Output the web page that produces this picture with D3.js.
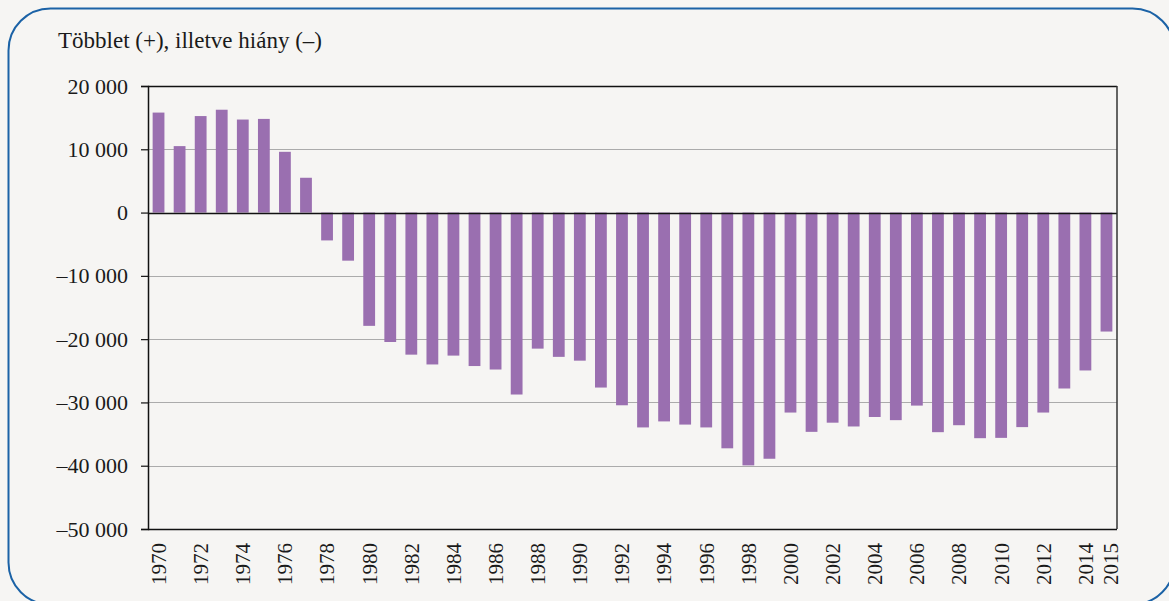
<!DOCTYPE html>
<html>
<head>
<meta charset="utf-8">
<script src="https://cdn.jsdelivr.net/npm/d3@7"></script>
<style>
  html, body { margin: 0; padding: 0; background: #f6f5f3; }
  svg { display: block; }
  text { font-family: "Liberation Serif", "Times New Roman", serif; fill: #1a1a1a; }
</style>
</head>
<body>
<div id="chart"></div>
<script>
// adatok
var years = d3.range(1970, 2016);
var values = [
    15800, 10500, 15250, 16250, 14700, 14800, 9600, 5500,
    -4400, -7600, -17900, -20450, -22450, -24000, -22600, -24250,
    -24800, -28750, -21500, -22800, -23400, -27650, -30450, -33950,
    -33000, -33500, -33950, -37250, -39950, -38900, -31600, -34650,
    -33200, -33800, -32300, -32800, -30500, -34700, -33600, -35650,
    -35600, -33900, -31600, -27800, -24950, -18800
];
var yTicks = [20000, 10000, 0, -10000, -20000, -30000, -40000, -50000];
var xLabels = [1970, 1972, 1974, 1976, 1978, 1980, 1982, 1984, 1986, 1988, 1990, 1992,
    1994, 1996, 1998, 2000, 2002, 2004, 2006, 2008, 2010, 2012, 2014, 2015];
var title = "Többlet (+), illetve hiány (–)";

var W = 1169, H = 601;
var margin = { top: 86, right: 52, bottom: 72, left: 148 };
var width = W - margin.left - margin.right;
var height = H - margin.top - margin.bottom;

var svg = d3.select("#chart").append("svg")
    .attr("width", W)
    .attr("height", H);

// keret
svg.append("rect")
    .attr("x", 8.5).attr("y", 8.5)
    .attr("width", 1166).attr("height", 596)
    .attr("rx", 42).attr("ry", 42)
    .attr("fill", "#f6f5f3")
    .attr("stroke", "#1b62a6")
    .attr("stroke-width", 2);

svg.append("text")
    .attr("x", 58)
    .attr("y", 48)
    .style("font-size", "23px")
    .text(title);

var g = svg.append("g")
    .attr("transform", "translate(" + margin.left + "," + margin.top + ")");

var x = d3.scaleBand()
    .domain(years)
    .range([0, width])
    .paddingInner(0.44)
    .paddingOuter(0.22);

var y = d3.scaleLinear()
    .domain([-50000, 20000])
    .range([height, 0]);

function fmt(v) {
    var s = d3.format(",")(Math.abs(v)).replace(/,/g, " ");
    return (v < 0 ? "–" : "") + s;
}

// rácsvonalak
g.selectAll(".grid")
    .data(yTicks.filter(function (d) { return d !== 0 && d !== 20000 && d !== -50000; }))
    .enter().append("line")
    .attr("x1", 0).attr("x2", width)
    .attr("y1", function (d) { return Math.round(y(d)) + 0.5; })
    .attr("y2", function (d) { return Math.round(y(d)) + 0.5; })
    .attr("stroke", "#ababab")
    .attr("stroke-width", 1);

// oszlopok
g.selectAll(".bar")
    .data(values)
    .enter().append("rect")
    .attr("x", function (d, i) { return x(years[i]); })
    .attr("y", function (d) { return y(Math.max(0, d)); })
    .attr("width", x.bandwidth())
    .attr("height", function (d) { return Math.abs(y(d) - y(0)); })
    .attr("fill", "#9a6fb0");

// fekete keret vonalak
var yb = [y(20000), y(0), y(-50000)];
g.selectAll(".hl")
    .data(yb)
    .enter().append("line")
    .attr("x1", 0).attr("x2", width)
    .attr("y1", function (d) { return Math.round(d) + 0.5; })
    .attr("y2", function (d) { return Math.round(d) + 0.5; })
    .attr("stroke", "#111")
    .attr("stroke-width", 1.5);

g.append("line")
    .attr("x1", width).attr("x2", width)
    .attr("y1", y(20000)).attr("y2", y(-50000))
    .attr("stroke", "#333").attr("stroke-width", 1.5);

// Y tengely
var yAxis = d3.axisLeft(y).tickValues(yTicks).tickSize(7).tickPadding(13).tickFormat(fmt);
var ya = g.append("g").call(yAxis);
ya.select(".domain").attr("stroke", "#111").attr("stroke-width", 1.5);
ya.selectAll(".tick line").attr("stroke", "#111").attr("stroke-width", 1.2);
ya.selectAll("text")
    .style("font-size", "22px")
    .style("font-family", "'Liberation Serif', serif")
    .attr("fill", "#1a1a1a");

// X feliratok
g.selectAll(".xl")
    .data(xLabels)
    .enter().append("text")
    .attr("transform", function (d, i) {
        var cx = x(d) + x.bandwidth() / 2 + (i === xLabels.length - 1 ? 4 : 0);
        return "translate(" + cx + "," + (height + 14) + ") rotate(-90)";
    })
    .attr("text-anchor", "end")
    .attr("dy", "0.35em")
    .style("font-size", "21px")
    .text(function (d) { return d; });
</script>
</body>
</html>
